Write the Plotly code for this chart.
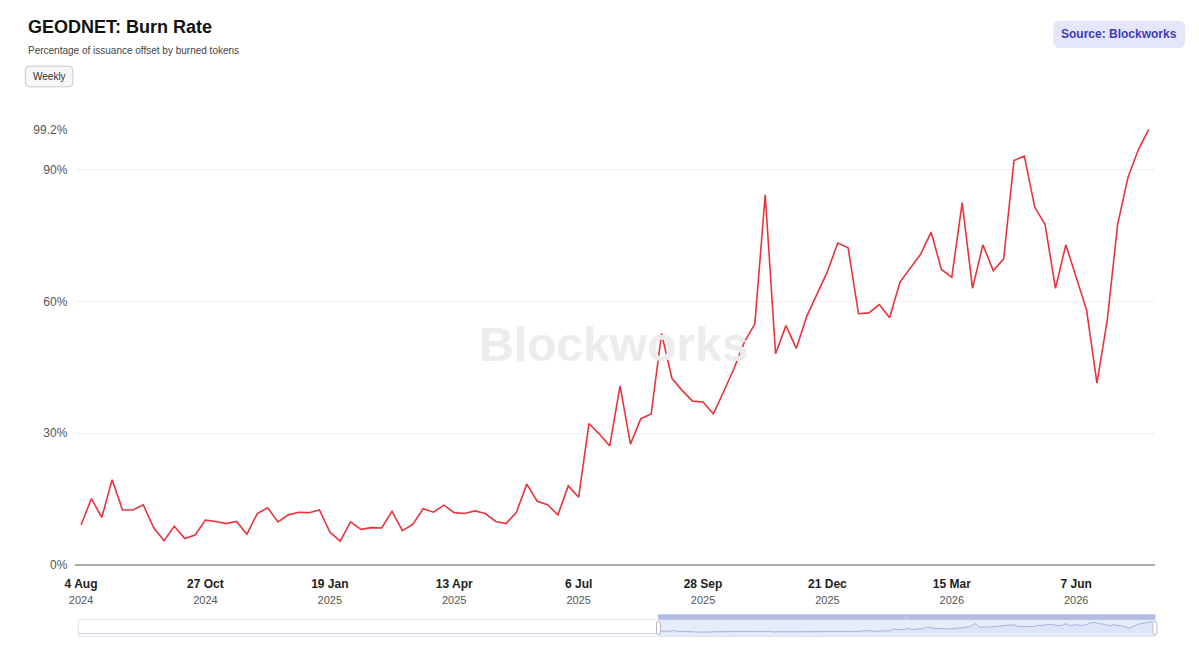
import pandas as pd
import plotly.graph_objects as go

# ---------------- data ----------------
start_date = "2024-08-04"
burn_rate = [
    9.1, 15.1, 10.8, 19.4, 12.5, 12.5, 13.7, 8.5, 5.5, 8.8, 6.0, 6.8,
    10.2, 9.9, 9.4, 9.9, 7.0, 11.7, 13.0, 9.8, 11.4, 12.0, 11.9, 12.5,
    7.5, 5.4, 9.8, 8.1, 8.5, 8.4, 12.2, 7.8, 9.2, 12.8, 12.0, 13.6,
    11.9, 11.7, 12.3, 11.7, 9.9, 9.4, 12.0, 18.4, 14.5, 13.7, 11.4, 18.0,
    15.4, 32.2, 29.8, 27.1, 40.8, 27.5, 33.3, 34.4, 52.7, 42.5, 39.7, 37.3,
    37.1, 34.4, 39.5, 44.8, 50.8, 54.9, 84.3, 48.1, 54.5, 49.3, 56.6, 61.6,
    66.8, 73.3, 72.2, 57.2, 57.4, 59.3, 56.3, 64.4, 67.6, 70.8, 75.8, 67.3,
    65.5, 82.5, 63.0, 72.9, 67.0, 69.7, 92.1, 93.1, 81.5, 77.5, 63.0, 72.9,
    65.5, 58.1, 41.4, 55.8, 77.6, 88.3, 94.6, 99.2,
]
dates = pd.date_range(start_date, periods=len(burn_rate), freq="7D")

x_tick_dates = ["2024-08-04", "2024-10-27", "2025-01-19", "2025-04-13", "2025-07-06",
                "2025-09-28", "2025-12-21", "2026-03-15", "2026-06-07"]
x_tick_days = ["4 Aug", "27 Oct", "19 Jan", "13 Apr", "6 Jul", "28 Sep", "21 Dec", "15 Mar", "7 Jun"]
x_tick_years = ["2024", "2024", "2025", "2025", "2025", "2025", "2025", "2026", "2026"]

y_tick_vals = [0, 30, 60, 90, 99.2]
y_tick_text = ["0%", "30%", "60%", "90%", "99.2%"]

# ---------------- layout helpers ----------------
W, H = 1199, 660
def px(x):
    return x / W
def py(y):
    return 1 - y / H

FONT = "Liberation Sans, Arial, sans-serif"
LINE_COLOR = "#e8343c"

# main plot area in pixels
PL, PR, PT, PB = 65, 1155, 125, 570
first_px, last_px = 70.7, 1148.3
n_weeks = len(burn_rate) - 1
ppw = (last_px - first_px) / n_weeks
x_start = dates[0] - pd.Timedelta(days=7 * (first_px - PL) / ppw)
x_end = dates[-1] + pd.Timedelta(days=7 * (PR - last_px) / ppw)

# navigator
NL, NR, NT, NB = 68, 1155, 626, 643
SEL_L = 653
nav_ppw = (NR - 3 - SEL_L) / n_weeks
nav_start = dates[0] - pd.Timedelta(days=7 * (SEL_L + 2 - NL) / nav_ppw)
nav_end = dates[-1] + pd.Timedelta(days=7 * 3 / nav_ppw)

fig = go.Figure()

fig.add_trace(go.Scatter(
    x=dates, y=burn_rate, mode="lines",
    line=dict(color=LINE_COLOR, width=1.6),
    hovertemplate="%{x|%d %b %Y}<br>%{y:.1f}%<extra></extra>",
    showlegend=False, xaxis="x", yaxis="y",
))

fig.add_trace(go.Scatter(
    x=dates, y=burn_rate, mode="lines",
    line=dict(color="#a9b3dd", width=1),
    fill="tozeroy", fillcolor="rgba(205,215,245,0.35)",
    hoverinfo="skip", showlegend=False, xaxis="x2", yaxis="y2",
))

ticktext = [f"<b>{d}</b><br><span style='font-size:11px;color:#555'>{y}</span>"
            for d, y in zip(x_tick_days, x_tick_years)]


def rounded_rect(x0, y0, x1, y1, r):
    # pixel coords -> paper path with quadratic corners
    pts = []
    pts.append(f"M{px(x0 + r)},{py(y0)}")
    pts.append(f"L{px(x1 - r)},{py(y0)}")
    pts.append(f"Q{px(x1)},{py(y0)} {px(x1)},{py(y0 + r)}")
    pts.append(f"L{px(x1)},{py(y1 - r)}")
    pts.append(f"Q{px(x1)},{py(y1)} {px(x1 - r)},{py(y1)}")
    pts.append(f"L{px(x0 + r)},{py(y1)}")
    pts.append(f"Q{px(x0)},{py(y1)} {px(x0)},{py(y1 - r)}")
    pts.append(f"L{px(x0)},{py(y0 + r)}")
    pts.append(f"Q{px(x0)},{py(y0)} {px(x0 + r)},{py(y0)}")
    pts.append("Z")
    return " ".join(pts)

shapes = [
    # Weekly button
    dict(type="path", xref="paper", yref="paper", path=rounded_rect(14.5, 60.5, 62.5, 81.5, 4),
         line=dict(color="#c8c8c8", width=1), fillcolor="#f7f7f7", layer="below"),
    # Source badge
    dict(type="path", xref="paper", yref="paper", path=rounded_rect(1052, 14, 1185, 42, 7),
         line=dict(width=0), fillcolor="#e6e6fb", layer="below"),
    # navigator outer box
    dict(type="rect", xref="paper", yref="paper", x0=px(NL), x1=px(NR), y0=py(NB), y1=py(NT),
         line=dict(color="#e3e3e8", width=1), fillcolor="rgba(0,0,0,0)", layer="below"),
    # navigator baseline
    dict(type="line", xref="paper", yref="paper", x0=px(NL), x1=px(SEL_L), y0=py(640), y1=py(640),
         line=dict(color="#c9cfe8", width=1)),
    # navigator selection fill
    dict(type="rect", xref="paper", yref="paper", x0=px(SEL_L), x1=px(NR), y0=py(NB), y1=py(NT),
         line=dict(width=0), fillcolor="rgba(200,214,245,0.45)", layer="below"),
    # navigator selection header
    dict(type="rect", xref="paper", yref="paper", x0=px(SEL_L), x1=px(NR), y0=py(NT), y1=py(620.5),
         line=dict(width=0), fillcolor="#b2bce2"),
    # handles
    dict(type="path", xref="paper", yref="paper", path=rounded_rect(SEL_L - 1.5, 628, SEL_L + 2.5, 641, 1.5),
         line=dict(color="#b8b8c8", width=1), fillcolor="#ffffff"),
    dict(type="path", xref="paper", yref="paper", path=rounded_rect(NR - 2.5, 628, NR + 1.5, 641, 1.5),
         line=dict(color="#b8b8c8", width=1), fillcolor="#ffffff"),
]

annotations = [
    dict(text="<b>GEODNET: Burn Rate</b>", xref="paper", yref="paper", x=px(15), y=py(20),
         xanchor="left", yanchor="middle", showarrow=False,
         font=dict(family=FONT, size=18, color="#111111")),
    dict(text="Percentage of issuance offset by burned tokens", xref="paper", yref="paper",
         x=px(15), y=py(44), xanchor="left", yanchor="middle", showarrow=False,
         font=dict(family=FONT, size=10, color="#444444")),
    dict(text="Weekly", xref="paper", yref="paper", x=px(38.5), y=py(71), xanchor="center",
         yanchor="middle", showarrow=False, font=dict(family=FONT, size=10, color="#333333")),
    dict(text="<b>Source: Blockworks</b>", xref="paper", yref="paper", x=px(1118.5), y=py(28),
         xanchor="center", yanchor="middle", showarrow=False,
         font=dict(family=FONT, size=12, color="#3d3db4")),
    dict(text="<b>Blockworks</b>", xref="paper", yref="paper", x=px(608), y=py(345),
         xanchor="center", yanchor="middle", showarrow=False,
         font=dict(family=FONT, size=48, color="#ececec")),
    dict(text="|||", xref="paper", yref="paper", x=px((SEL_L + NR) / 2), y=py(623.3),
         xanchor="center", yanchor="middle", showarrow=False,
         font=dict(family=FONT, size=4, color="#d3d9f0")),
]

fig.update_layout(
    width=W, height=H, autosize=False,
    margin=dict(l=0, r=0, t=0, b=0),
    paper_bgcolor="white", plot_bgcolor="white",
    font=dict(family=FONT, color="#333333"),
    xaxis=dict(
        domain=[px(PL), px(PR)], range=[x_start, x_end], anchor="y",
        tickvals=x_tick_dates, ticktext=ticktext, tickmode="array",
        tickfont=dict(family=FONT, size=12, color="#222222"),
        showgrid=False, zeroline=False, showline=False, ticks="",
        ticklabelstandoff=10, fixedrange=True,
    ),
    yaxis=dict(
        domain=[py(PB), py(PT)], range=[0, 99.2], anchor="x",
        tickvals=y_tick_vals, ticktext=y_tick_text, tickmode="array",
        tickfont=dict(family=FONT, size=12, color="#555555"),
        showgrid=True, gridcolor="#efefef", gridwidth=1,
        zeroline=True, zerolinecolor="#ababab", zerolinewidth=2,
        showline=False, ticks="", ticklabelstandoff=7, fixedrange=True,
    ),
    xaxis2=dict(
        domain=[px(NL), px(NR)], range=[nav_start, nav_end], anchor="y2",
        visible=False, fixedrange=True,
    ),
    yaxis2=dict(
        domain=[py(NB - 1), py(NT + 1)], range=[-25, 110], anchor="x2",
        visible=False, fixedrange=True,
    ),
    shapes=shapes,
    annotations=annotations,
    hovermode="x",
)

fig.write_html(
    "out.html",
    config={"displayModeBar": False},
    post_script="document.body.style.margin='0';document.body.style.overflow='hidden';",
)
